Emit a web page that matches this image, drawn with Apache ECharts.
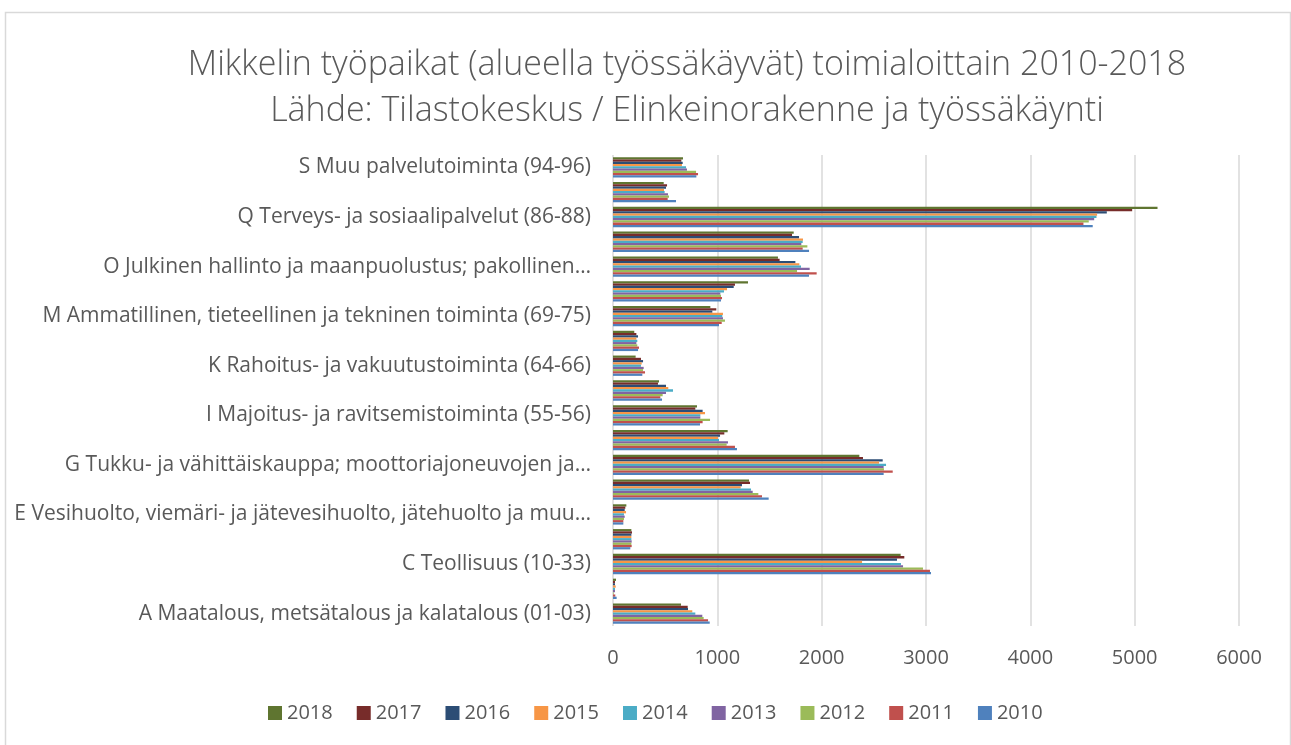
<!DOCTYPE html>
<html>
<head>
<meta charset="utf-8">
<script src="https://cdn.jsdelivr.net/npm/echarts@6/dist/echarts.min.js"></script>
<style>html,body{margin:0;padding:0;background:#fff;}#chart{width:1291px;height:745px;}</style>
</head>
<body>
<div id="chart"></div>
<script>
// Categories, bottom (A) to top (S)
const categories = [
  "A Maatalous, metsätalous ja kalatalous (01-03)",
  "B Kaivostoiminta ja louhinta (05-09)",
  "C Teollisuus (10-33)",
  "D Sähkö-, kaasu- ja lämpöhuolto, jäähdytysliiketoiminta (35)",
  "E Vesihuolto, viemäri- ja jätevesihuolto, jätehuolto ja muu…",
  "F Rakentaminen (41-43)",
  "G Tukku- ja vähittäiskauppa; moottoriajoneuvojen ja…",
  "H Kuljetus ja varastointi (49-53)",
  "I Majoitus- ja ravitsemistoiminta (55-56)",
  "J Informaatio ja viestintä (58-63)",
  "K Rahoitus- ja vakuutustoiminta (64-66)",
  "L Kiinteistöalan toiminta (68)",
  "M Ammatillinen, tieteellinen ja tekninen toiminta (69-75)",
  "N Hallinto- ja tukipalvelutoiminta (77-82)",
  "O Julkinen hallinto ja maanpuolustus; pakollinen…",
  "P Koulutus (85)",
  "Q Terveys- ja sosiaalipalvelut (86-88)",
  "R Taiteet, viihde ja virkistys (90-93)",
  "S Muu palvelutoiminta (94-96)"
];
const years = ["2018","2017","2016","2015","2014","2013","2012","2011","2010"];
const xTicks = [0, 1000, 2000, 3000, 4000, 5000, 6000];
//              A    B    C     D    E    F     G     H     I    J    K    L    M     N     O     P     Q     R    S
const v2018 = [652, 29, 2757, 176, 128, 1304, 2361, 1099, 805, 441, 217, 204, 933, 1294, 1581, 1732, 5219, 486, 671];
const v2017 = [716, 19, 2792, 182, 118, 1313, 2396, 1067, 789, 431, 268, 224, 990, 1169, 1597, 1716, 4976, 518, 655];
const v2016 = [719, 19, 2722, 176, 112, 1236, 2585, 1026, 859, 508, 288, 240, 952, 1157, 1748, 1783, 4733, 508, 668];
const v2015 = [760, 26, 2387, 176, 125, 1224, 2550, 1006, 882, 530, 275, 224, 1054, 1093, 1786, 1821, 4640, 489, 661];
const v2014 = [789, 19, 2760, 176, 105, 1323, 2617, 1016, 837, 575, 268, 233, 1048, 1064, 1802, 1818, 4634, 495, 700];
const v2013 = [856, 19, 2780, 179, 112, 1339, 2594, 1102, 837, 508, 294, 224, 1054, 1029, 1885, 1805, 4612, 527, 709];
const v2012 = [869, 6, 2971, 176, 105, 1393, 2597, 1089, 930, 476, 288, 233, 1073, 1035, 1764, 1863, 4560, 537, 796];
const v2011 = [911, 22, 3038, 179, 99, 1428, 2681, 1169, 859, 454, 307, 249, 1042, 1045, 1952, 1818, 4509, 524, 815];
const v2010 = [927, 35, 3048, 166, 99, 1492, 2594, 1188, 834, 470, 281, 240, 1016, 1035, 1879, 1879, 4598, 604, 799];
const seriesValues = [v2018, v2017, v2016, v2015, v2014, v2013, v2012, v2011, v2010];
const colors = ["#5F7530", "#772C2A", "#2C4D75", "#F79646", "#4BACC6", "#8064A2", "#9BBB59", "#C0504D", "#4F81BD"];

const FONT = "'Open Sans', Lato, sans-serif";
const chart = echarts.init(document.getElementById('chart'), null, {renderer: 'canvas'});
chart.setOption({
  animation: false,
  backgroundColor: '#fff',
  color: colors,
  graphic: [{
    type: 'rect', left: 3, top: 10,
    shape: {width: 1285, height: 740},
    style: {fill: 'none', stroke: '#d9d9d9', lineWidth: 1.5},
    silent: true
  }],
  title: {
    text: 'Mikkelin työpaikat (alueella työssäkäyvät) toimialoittain 2010-2018\nLähde: Tilastokeskus / Elinkeinorakenne ja työssäkäynti',
    left: 682, textAlign: 'center', top: 37,
    textStyle: {fontFamily: FONT, fontSize: 34, fontWeight: 300, color: '#595959', lineHeight: 46}
  },
  legend: {
    data: years, top: 698, left: 263,
    itemWidth: 14, itemHeight: 14, itemGap: 24, icon: 'rect',
    textStyle: {fontFamily: FONT, fontSize: 20, color: '#595959'}
  },
  grid: {left: 613, right: 52, top: 155, height: 471, containLabel: false},
  xAxis: {
    type: 'value', min: xTicks[0], max: xTicks[xTicks.length - 1], interval: 1000,
    axisLine: {show: false}, axisTick: {show: false},
    splitLine: {show: true, lineStyle: {color: '#d9d9d9', width: 1.5}},
    axisLabel: {fontFamily: FONT, fontSize: 20, color: '#595959', margin: 22,
      formatter: v => String(v)}
  },
  yAxis: {
    type: 'category', data: categories,
    axisLine: {show: false}, axisTick: {show: false},
    axisLabel: {interval: 1, fontFamily: FONT, fontSize: 21, color: '#595959', margin: 22}
  },
  series: years.map((y, i) => ({
    name: y, type: 'bar', data: seriesValues[i],
    barGap: '0%', barCategoryGap: '18%',
    itemStyle: {color: colors[i]}
  }))
});
</script>
</body>
</html>
